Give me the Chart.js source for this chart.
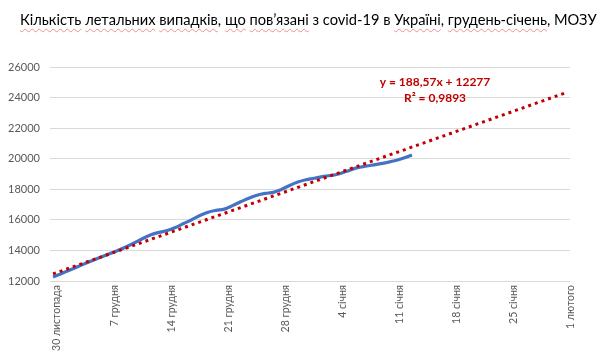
<!DOCTYPE html>
<html>
<head>
<meta charset="utf-8">
<script src="https://cdn.jsdelivr.net/npm/chart.js@4/dist/chart.umd.min.js"></script>
<style>
html,body{margin:0;padding:0;background:#fff;}
#wrap{position:relative;width:610px;height:358px;overflow:hidden;}
canvas{position:absolute;left:0;top:0;}
#title{position:absolute;left:20px;top:10px;line-height:20px;font-family:Lato,'Open Sans',sans-serif;font-size:16px;color:#000;white-space:nowrap;}
#title .sp{text-decoration:underline wavy rgba(215,70,70,0.55);text-decoration-thickness:1px;text-underline-offset:3px;}
</style>
</head>
<body>
<div id="wrap">
<canvas id="c" width="610" height="358"></canvas>
<div id="title"><span class="sp">Кількість</span> <span class="sp">летальних</span> <span class="sp">випадків</span>, <span class="sp">що</span> <span class="sp">пов’язані</span> з covid-19 в <span class="sp">Україні</span>, <span class="sp">грудень-січень</span>, МОЗУ</div>
</div>
<script>
// ---- data ----
const tickDays = [0, 7, 14, 21, 28, 35, 42, 49, 56, 63];
const tickLabels = ['30 листопада', '7 грудня', '14 грудня', '21 грудня', '28 грудня', '4 січня', '11 січня', '18 січня', '25 січня', '1 лютого'];
const dayIndex = [0,1,2,3,4,5,6,7,8,9,10,11,12,13,14,15,16,17,18,19,20,21,22,23,24,25,26,27,28,29,30,31,32,33,34,35,36,37,38,39,40,41,42,43,44];
const deaths = [12260,12480,12700,12930,13160,13380,13590,13800,14010,14240,14500,14780,15020,15180,15300,15500,15760,16010,16280,16500,16620,16700,16930,17180,17420,17610,17730,17800,17990,18250,18470,18620,18720,18830,18900,19000,19180,19370,19480,19570,19660,19760,19880,20040,20250];
const trendDays = [0, 63];
const trendValues = [12466, 24345];
const yMin = 12000, yMax = 26000, yStep = 2000;
const trendText = ['y = 188,57x + 12277', 'R² = 0,9893'];

// fit the title to the reference width
(function(){
  const t = document.getElementById('title');
  const w = t.getBoundingClientRect().width;
  t.style.fontSize = (16 * 577 / w).toFixed(2) + 'px';
})();

const FONT = 'Lato, "Open Sans", sans-serif';
Chart.defaults.font.family = FONT;

const trendLabel = {
  id: 'trendLabel',
  afterDatasetsDraw(chart) {
    const {ctx, chartArea} = chart;
    ctx.save();
    ctx.fillStyle = '#C00000';
    ctx.font = 'bold 12px ' + FONT;
    ctx.textAlign = 'center';
    ctx.textBaseline = 'middle';
    const cx = chartArea.left + 385;
    ctx.fillText(trendText[0], cx, chartArea.top + 15);
    ctx.fillText(trendText[1], cx, chartArea.top + 31);
    ctx.restore();
  }
};

new Chart(document.getElementById('c'), {
  type: 'line',
  data: {
    datasets: [
      {
        label: 'trend',
        data: trendDays.map((d, i) => ({x: d, y: trendValues[i]})),
        borderColor: '#C00000',
        borderWidth: 3,
        borderDash: [3, 4],
        pointRadius: 0,
        tension: 0,
        order: 0
      },
      {
        label: 'deaths',
        data: dayIndex.map((d, i) => ({x: d, y: deaths[i]})),
        borderColor: '#4472C4',
        borderWidth: 3.2,
        pointRadius: 0,
        tension: 0.4,
        cubicInterpolationMode: 'monotone',
        order: 1
      }
    ]
  },
  options: {
    responsive: false,
    animation: false,
    layout: {padding: {top: 67, right: 40, left: 0, bottom: 0}},
    plugins: {legend: {display: false}, tooltip: {enabled: false}, title: {display: false}},
    scales: {
      x: {
        type: 'linear',
        min: -0.37,
        max: 63.37,
        grid: {display: false, drawTicks: false},
        border: {display: false},
        afterBuildTicks: s => { s.ticks = tickDays.map(v => ({value: v})); },
        afterFit: s => { s.height = 77; },
        ticks: {
          autoSkip: false,
          minRotation: 90,
          maxRotation: 90,
          padding: 4,
          labelOffset: 4,
          color: '#595959',
          font: {size: 10.5},
          callback: (v, i) => tickLabels[i]
        }
      },
      y: {
        min: yMin,
        max: yMax,
        afterFit: s => { s.width = 50; },
        grid: {color: '#D9D9D9', lineWidth: 1, drawTicks: false},
        border: {display: false},
        ticks: {stepSize: yStep, padding: 10, color: '#595959', font: {size: 11}, callback: v => String(v)}
      }
    }
  },
  plugins: [trendLabel]
});
</script>
</body>
</html>
